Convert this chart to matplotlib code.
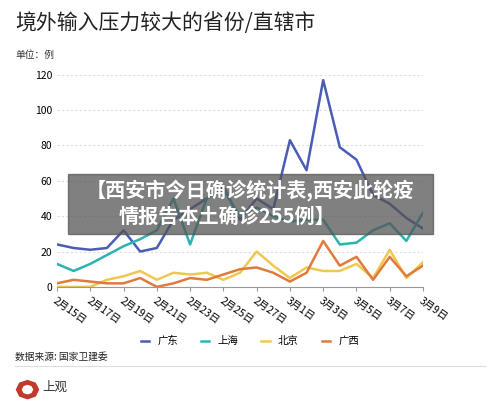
import matplotlib
matplotlib.use("Agg")
import matplotlib.pyplot as plt
from matplotlib.patches import Rectangle, RegularPolygon

plt.rcParams['font.family'] = ['Noto Sans CJK SC', 'DejaVu Sans']

days = list(range(23))
tick_labels = ["2月15日","2月17日","2月19日","2月21日","2月23日","2月25日","2月27日","3月1日","3月3日","3月5日","3月7日","3月9日"]
guangdong = [24,22,21,22,32,20,22,38,44,50,57,38,50,44,83,66,117,79,72,52,47,39,33]
shanghai = [13,9,13,18,23,27,32,50,24,50,55,40,45,40,37,38,38,24,25,32,36,26,42]
beijing = [0,0,0,4,6,9,4,8,7,8,4,8,20,12,5,11,9,9,13,5,21,5,14]
guangxi = [2,4,3,2,2,5,0,2,5,4,7,10,11,8,3,8,26,12,17,4,17,6,12]
names = ["广东","上海","北京","广西"]
colors = ["#4a5cb5","#2bb3b3","#f0c850","#e07b3c"]

fig = plt.figure(figsize=(5,4.11), dpi=100)
ax = fig.add_axes([0.114, 0.302, 0.732, 0.516])
for s, n, c in zip([guangdong, shanghai, beijing, guangxi], names, colors):
    ax.plot(days, s, color=c, lw=1.8, label=n)
ax.set_xlim(0, 22)
ax.set_ylim(0, 120)
ax.set_yticks(range(0, 121, 20))
ax.set_xticks(range(0, 23, 2))
ax.set_xticklabels(tick_labels, rotation=-35, ha='left', va='top', rotation_mode='anchor', fontsize=7.5)
ax.tick_params(axis='y', labelsize=7.5, length=0)
ax.tick_params(axis='x', length=3, color='#999')
ax.grid(axis='y', ls=(0,(2,2)), color='#ddd', lw=0.8)
for sp in ['top','right','left']:
    ax.spines[sp].set_visible(False)
ax.spines['bottom'].set_color('#999')
ax.set_axisbelow(True)

fig.text(0.03, 0.945, "境外输入压力较大的省份/直辖市", fontsize=15, va='center', color='#222')
fig.text(0.03, 0.866, "单位：例", fontsize=7, va='center', color='#333')
fig.legend(loc='center', bbox_to_anchor=(0.5, 0.17), ncol=4, frameon=False, fontsize=7.5,
           handlelength=0.8, columnspacing=2.2)
fig.text(0.03, 0.133, "数据来源: 国家卫建委", fontsize=7, va='center', color='#222')
fig.add_artist(plt.Line2D([0.03, 0.97], [0.11, 0.11], color='#ddd', lw=0.8))
fig.add_artist(RegularPolygon((0.055, 0.052), 8, radius=0.022, color='#c0392b', transform=fig.transFigure))
fig.add_artist(RegularPolygon((0.055, 0.052), 8, radius=0.01, color='white', transform=fig.transFigure))
fig.text(0.085, 0.058, "上观", fontsize=9, va='center', color='#333')

fig.add_artist(Rectangle((0.136, 0.43), 0.73, 0.147, transform=fig.transFigure, color='#555', alpha=0.75))
fig.text(0.5, 0.538, "【西安市今日确诊统计表,西安此轮疫", fontsize=14.5, ha='center', va='center', color='white', weight='bold')
fig.text(0.455, 0.474, "情报告本土确诊255例】", fontsize=14.5, ha='center', va='center', color='white', weight='bold')
fig.savefig("out.png", dpi=100)
